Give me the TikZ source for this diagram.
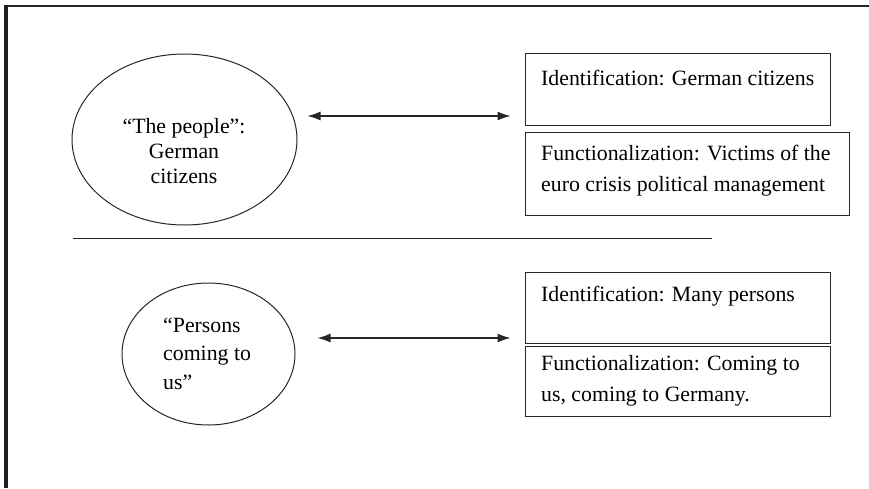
\documentclass[tikz,border=0pt]{standalone}
\usepackage{fontspec}
\setmainfont{Liberation Serif}
\usetikzlibrary{shapes.geometric, arrows.meta}
\tikzset{
  % the page frame: a thin rule on top and a heavy bar on the left
  frame-top/.style={draw=black!85, line width=1.5pt},
  frame-bar/.style={draw=black!88, line width=4.5pt},
  % the ovals that name the group
  oval/.style={draw=black!85, line width=1pt, shape=ellipse, inner sep=0pt},
  % the text boxes on the right
  infobox/.style={draw=black!85, line width=1.2pt, anchor=north west, inner sep=0pt},
  % the text set inside ovals and boxes
  oval-text/.style={align=center, inner sep=0pt, anchor=base, font=\fontsize{21.8}{25}\selectfont},
  box-text/.style={align=flush left, inner sep=0pt, anchor=base west, font=\fontsize{21.8}{31.5}\selectfont},
  % the double headed arrows
  link/.style={{Latex[length=13pt,width=9pt]}-{Latex[length=13pt,width=9pt]}, draw=black!85, line width=1.2pt},
  % the rule between the two rows
  divider/.style={draw=black!85, line width=1pt}
}

\begin{document}
\begin{tikzpicture}[x=1pt, y=-1pt]
  \useasboundingbox (0,0) rectangle (869,488);

  % page frame
  \draw[frame-top] (4,6) -- (869,6);
  \draw[frame-bar] (6,5) -- (6,488);

  % upper row: "the people"
  \node[oval, minimum width=225, minimum height=171] at (184.5,139.5) (people) {};
  \node[oval-text] at (184,183) (people-text) {``The people'':\\German\\citizens};

  \node[infobox, minimum width=305, minimum height=72] at (525,53) (idA) {};
  \node[box-text] at (541,85) (idA-text) {Identification: German citizens};
  \node[infobox, minimum width=324, minimum height=83] at (525,132) (funA) {};
  \node[box-text, text width=310] at (541,160) (funA-text) {Functionalization: Victims of the\\euro crisis political management};

  \draw[link] ([shift={(10pt,23.5pt)}]people.east) -- ++(203,0);

  % rule between the rows
  \draw[divider] (73,238) -- (712,238);

  % lower row: "persons coming to us"
  \node[oval, minimum width=173, minimum height=142] at (208.5,354) (persons) {};
  \node[box-text, text width=120, font=\fontsize{21.8}{28.5}\selectfont] at (163,332) (persons-text) {``Persons\\coming to\\us''};

  \node[infobox, minimum width=305, minimum height=71] at (525,272) (idB) {};
  \node[box-text] at (541,301) (idB-text) {Identification: Many persons};
  \node[infobox, minimum width=305, minimum height=70] at (525,346) (funB) {};
  \node[box-text, text width=285] at (541,370) (funB-text) {Functionalization: Coming to\\us, coming to Germany.};

  \draw[link] ([shift={(22pt,16pt)}]persons.east) -- ++(193,0);

\end{tikzpicture}
\end{document}
